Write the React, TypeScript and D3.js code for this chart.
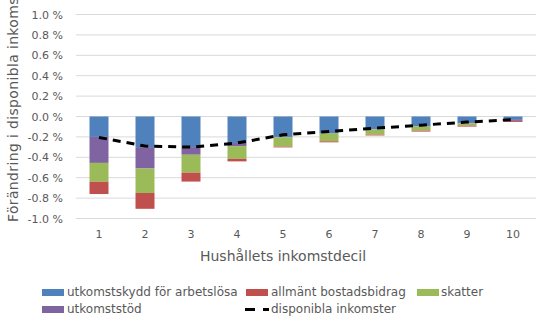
import React from "react";
import * as d3 from "d3";

const categories = ["1", "2", "3", "4", "5", "6", "7", "8", "9", "10"];
const utkomstskydd = [-0.2, -0.3, -0.3, -0.26, -0.2, -0.163, -0.125, -0.093, -0.063, -0.033];
const utkomststod = [-0.255, -0.21, -0.075, -0.03, -0.005, -0.005, -0.003, -0.005, -0.004, -0.01];
const skatter = [-0.185, -0.24, -0.175, -0.125, -0.09, -0.075, -0.05, -0.04, -0.022, 0];
const bostadsbidrag = [-0.12, -0.155, -0.088, -0.025, -0.008, -0.01, -0.008, -0.01, -0.01, -0.01];
const disponibla = [-0.205, -0.29, -0.3, -0.26, -0.18, -0.147, -0.115, -0.085, -0.055, -0.03];
const yTicks = [1.0, 0.8, 0.6, 0.4, 0.2, 0.0, -0.2, -0.4, -0.6, -0.8, -1.0];

const seriesStack = [
  { name: "utkomstskydd för arbetslösa", values: utkomstskydd, color: "#4f81bd" },
  { name: "utkomststöd", values: utkomststod, color: "#8064a2" },
  { name: "skatter", values: skatter, color: "#9bbb59" },
  { name: "allmänt bostadsbidrag", values: bostadsbidrag, color: "#c0504d" },
];

const FONT = "'DejaVu Sans', sans-serif";
const GRAY = "#595959";

export default function App() {
  const W = 550, H = 324;
  const x = d3.scaleBand<string>().domain(categories).range([76, 536]).paddingInner(0.587).paddingOuter(0.2935);
  const xc = (c: string) => (x(c) as number) + x.bandwidth() / 2;
  const y = d3.scaleLinear().domain([-1, 1]).range([218.5, 14.5]);

  const rects: JSX.Element[] = [];
  categories.forEach((c, i) => {
    let acc = 0;
    seriesStack.forEach((s, si) => {
      const v = s.values[i];
      const y0 = y(acc);
      const y1 = y(acc + v);
      acc += v;
      if (v === 0) return;
      rects.push(
        <rect key={`${c}-${si}`} x={x(c)} y={Math.min(y0, y1)} width={x.bandwidth()} height={Math.abs(y1 - y0)} fill={s.color} />
      );
    });
  });

  const line = d3.line<number>().x((_, i) => xc(categories[i])).y((d) => y(d))(disponibla) as string;

  return (
    <svg width={W} height={H} style={{ position: "absolute", left: 0, top: 0 }}>
      <rect width={W} height={H} fill="#fff" />
      {yTicks.map((t) => (
        <g key={t}>
          <line x1={76} x2={536} y1={y(t)} y2={y(t)} stroke="#d9d9d9" strokeWidth={1} />
          <text x={63} y={y(t) + 4} textAnchor="end" fontFamily={FONT} fontSize={11} fill={GRAY}>
            {t.toFixed(1) + " %"}
          </text>
        </g>
      ))}
      {rects}
      <path d={line} fill="none" stroke="#000" strokeWidth={3} strokeDasharray="8,6" />
      {categories.map((c) => (
        <text key={c} x={xc(c)} y={238} textAnchor="middle" fontFamily={FONT} fontSize={11} fill={GRAY}>
          {c}
        </text>
      ))}
      <text x={283} y={261} textAnchor="middle" fontFamily={FONT} fontSize={14} fill={GRAY}>
        Hushållets inkomstdecil
      </text>
      <text transform="translate(18,222) rotate(-90)" textAnchor="start" fontFamily={FONT} fontSize={14} letterSpacing={0.35} fill={GRAY}>
        Förändring i disponibla inkomster
      </text>
      {/* legend */}
      <rect x={42} y={289} width={22} height={7} fill="#4f81bd" />
      <text x={67} y={296} fontFamily={FONT} fontSize={12} fill={GRAY}>utkomstskydd för arbetslösa</text>
      <rect x={246} y={289} width={22} height={7} fill="#c0504d" />
      <text x={271} y={296} fontFamily={FONT} fontSize={12} fill={GRAY}>allmänt bostadsbidrag</text>
      <rect x={417} y={289} width={22} height={7} fill="#9bbb59" />
      <text x={441} y={296} fontFamily={FONT} fontSize={12} fill={GRAY}>skatter</text>
      <rect x={42} y={306} width={22} height={7} fill="#8064a2" />
      <text x={67} y={313} fontFamily={FONT} fontSize={12} fill={GRAY}>utkomststöd</text>
      <line x1={245} x2={269} y1={309.5} y2={309.5} stroke="#000" strokeWidth={3} strokeDasharray="10,8" />
      <text x={271} y={313} fontFamily={FONT} fontSize={12} fill={GRAY}>disponibla inkomster</text>
    </svg>
  );
}
